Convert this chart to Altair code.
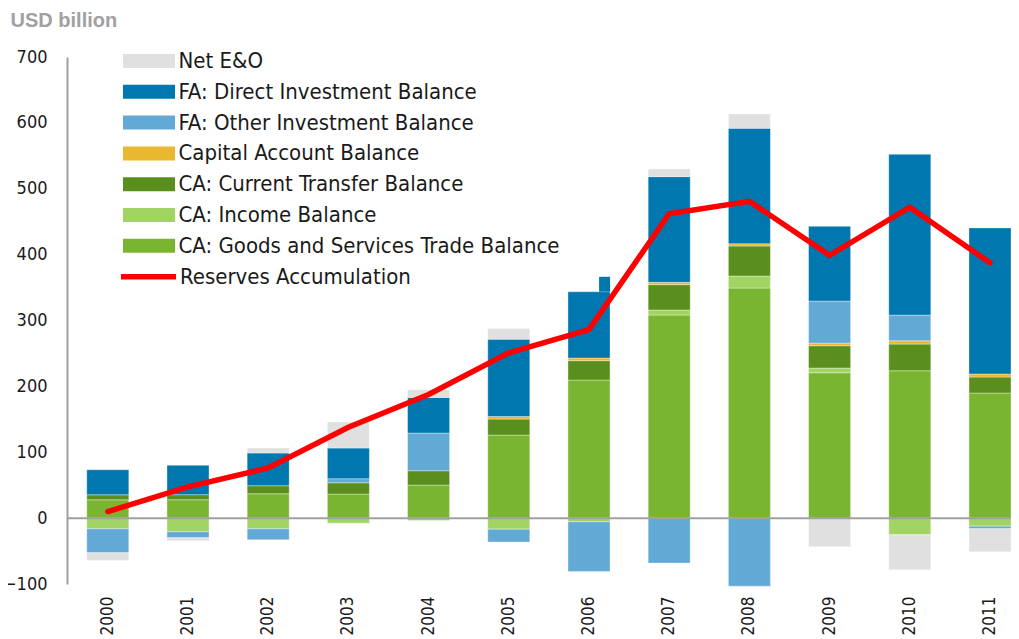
import altair as alt
import pandas as pd

years = ["2000", "2001", "2002", "2003", "2004", "2005", "2006", "2007", "2008", "2009", "2010", "2011"]

net_eo = [-11.7, -4.6, 7.6, 39.5, 11.6, 16.2, 0.0, 11.6, 21.8, -43.5, -53.2, -35.0]
direct_inv = [38.0, 44.5, 49.7, 46.6, 54.2, 117.4, 100.7, 160.5, 175.2, 113.4, 244.0, 221.7]
other_inv = [-36.5, -9.1, -16.7, 6.1, 57.2, -19.7, -75.4, -68.3, -103.3, 63.8, 39.0, -4.0]
capital = [0.0, 0.0, 0.0, 0.0, 0.0, 4.0, 4.0, 3.5, 3.5, 4.0, 5.0, 4.6]
transfer = [7.6, 7.6, 12.2, 17.2, 21.8, 24.3, 29.4, 38.5, 45.6, 33.9, 40.5, 24.3]
income = [-16.2, -20.8, -16.2, -7.6, -3.5, -16.7, -5.6, 7.6, 18.2, 7.1, -25.3, -12.2]
goods = [27.8, 28.0, 37.0, 36.5, 50.1, 126.0, 209.6, 308.3, 349.3, 220.7, 223.7, 189.9]
reserves = [10.0, 47.4, 76.2, 138.0, 187.6, 251.0, 286.3, 462.0, 481.0, 399.0, 472.0, 387.6]

# odd extra piece on the 2006 direct-investment bar
step_year = "2006"
step_top = 366.3

legend_names = [
    "Net E&O",
    "FA: Direct Investment Balance",
    "FA: Other Investment Balance",
    "Capital Account Balance",
    "CA: Current Transfer Balance",
    "CA: Income Balance",
    "CA: Goods and Services Trade Balance",
]
legend_colors = ["#e0e0e0", "#0077ae", "#63a9d5", "#e9b730", "#5a8f1d", "#a1d462", "#7ab532"]
line_name = "Reserves Accumulation"

series = [goods, income, transfer, capital, other_inv, direct_inv, net_eo]
series_names = [
    "CA: Goods and Services Trade Balance",
    "CA: Income Balance",
    "CA: Current Transfer Balance",
    "Capital Account Balance",
    "FA: Other Investment Balance",
    "FA: Direct Investment Balance",
    "Net E&O",
]

rows = []
for k, (name, vals) in enumerate(zip(series_names, series)):
    for y, v in zip(years, vals):
        if v != 0:
            rows.append({"year": y, "component": name, "value": v, "idx": k})
df = pd.DataFrame(rows)

df_line = pd.DataFrame({"year": years, "reserves": reserves, "series": [line_name] * len(years)})

i6 = years.index(step_year)
step_base = sum(s[i6] for s in [goods, income, transfer, capital, other_inv, direct_inv] if s[i6] > 0)
df_step = pd.DataFrame({"year": [step_year], "y0": [step_base], "y1": [step_top]})

FONT = "DejaVu Sans Condensed, DejaVu Sans"

x_scale = alt.Scale(domain=years, paddingInner=0.476, paddingOuter=0.1233, align=1, round=False)
y_scale = alt.Scale(domain=[-100, 700], nice=False, zero=False, round=False)

x_enc = alt.X(
    "year:N",
    scale=x_scale,
    axis=alt.Axis(
        title=None, labelAngle=270, domain=False, ticks=False, tickSize=0,
        labelPadding=12, labelFont=FONT, labelFontSize=17, labelColor="#1a1a1a",
    ),
)
y_axis = alt.Axis(
    title=None, values=[-100, 0, 100, 200, 300, 400, 500, 600, 700], grid=False,
    ticks=False, tickSize=0, domain=True, domainColor="#a0a0a0", domainWidth=2,
    labelPadding=20, labelFont=FONT, labelFontSize=18, labelColor="#1a1a1a",
    labelOffset=0,
)

bars = alt.Chart(df).mark_bar(stroke="#ffffff", strokeWidth=1, strokeOpacity=0.35).encode(
    x=x_enc,
    y=alt.Y("value:Q", stack="zero", scale=y_scale, axis=y_axis),
    color=alt.Color(
        "component:N",
        scale=alt.Scale(domain=legend_names, range=legend_colors),
        legend=alt.Legend(
            title=None, orient="none", legendX=56, legendY=-9,
            symbolType="M-2,-0.54H2V0.54H-2Z", symbolSize=676, symbolStrokeWidth=0,
            symbolOffset=13, labelOffset=16.5,
            labelFont=FONT, labelFontSize=22, labelColor="#1a1a1a", labelLimit=800,
            rowPadding=6.8, padding=0,
        ),
    ),
    order=alt.Order("idx:Q", sort="ascending"),
)

step = alt.Chart(df_step).mark_bar(color="#0077ae", size=11, xOffset=15.6).encode(
    x=alt.X("year:N", scale=x_scale),
    y=alt.Y("y0:Q", scale=y_scale),
    y2="y1:Q",
)

zero = alt.Chart(pd.DataFrame({"z": [0]})).mark_rule(color="#a0a0a0", strokeWidth=2).encode(
    y=alt.Y("z:Q", scale=y_scale)
)

line = alt.Chart(df_line).mark_line(strokeWidth=5.5, strokeCap="round").encode(
    x=alt.X("year:N", scale=x_scale),
    y=alt.Y("reserves:Q", scale=y_scale),
    stroke=alt.Stroke(
        "series:N",
        scale=alt.Scale(domain=[line_name], range=["#ff0000"]),
        legend=alt.Legend(
            title=None, orient="none", legendX=51, legendY=189.3,
            symbolType="stroke", symbolSize=3025, symbolStrokeWidth=5.5,
            labelFont=FONT, labelFontSize=22, labelColor="#1a1a1a", labelLimit=800,
            labelOffset=1, padding=0,
        ),
    ),
)

chart = alt.layer(bars, step, zero, line).properties(
    width=944,
    height=527,
    autosize=alt.AutoSizeParams(type="none"),
    padding={"left": 59, "top": 49, "right": 0, "bottom": 51},
    title=alt.TitleParams(
        "USD billion", anchor="start", font="Liberation Sans", fontWeight="bold",
        fontSize=20, color="#a0a0a0", dx=8, dy=-13,
    ),
).configure_view(stroke=None)

chart.save("out.html", embed_options={"renderer": "svg", "actions": False})
